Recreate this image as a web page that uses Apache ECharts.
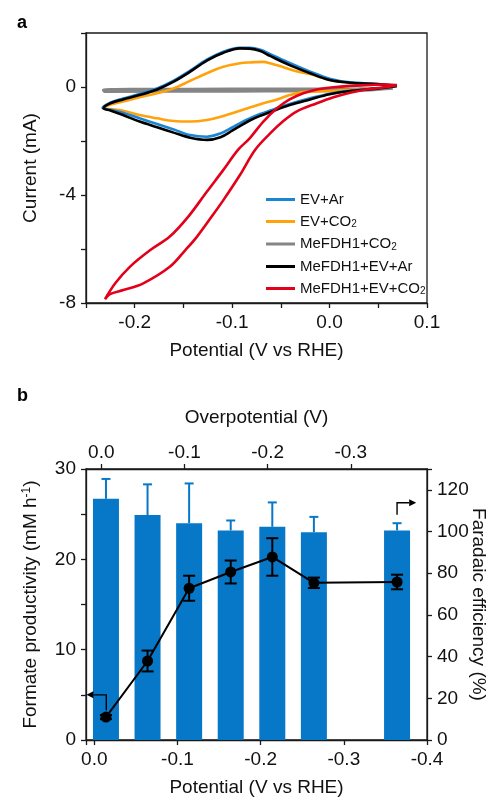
<!DOCTYPE html>
<html>
<head>
<meta charset="utf-8">
<script src="https://cdn.jsdelivr.net/npm/echarts@6.0.0/dist/echarts.min.js"></script>
<style>
html,body{margin:0;padding:0;background:#fff;}
#c{width:492px;height:799px;}
</style>
</head>
<body>
<div id="c"></div>
<script>
// ---------- Panel a: cyclic voltammograms [potential V vs RHE, current mA] ----------
const cvNames = ['EV+Ar', 'EV+CO2', 'MeFDH1+CO2', 'MeFDH1+EV+Ar', 'MeFDH1+EV+CO2'];

const cvEvAr = [
  [0.069,0.04],[0.048,-0.06],[0.021,-0.14],[0.000,-0.25],[-0.020,-0.42],[-0.041,-0.63],[-0.061,-0.87],
  [-0.072,-1.01],[-0.082,-1.16],[-0.090,-1.30],[-0.100,-1.50],[-0.112,-1.72],[-0.126,-1.84],[-0.143,-1.78],
  [-0.160,-1.57],[-0.177,-1.37],[-0.195,-1.16],[-0.212,-0.95],[-0.225,-0.84],[-0.233,-0.78],
  [-0.225,-0.58],[-0.212,-0.43],[-0.195,-0.26],[-0.177,-0.05],[-0.160,0.24],[-0.143,0.61],[-0.126,1.01],
  [-0.109,1.31],[-0.092,1.45],[-0.082,1.45],[-0.071,1.38],[-0.061,1.22],[-0.041,0.89],[-0.020,0.57],
  [0.000,0.31],[0.021,0.17],[0.048,0.11],[0.069,0.05]
];
const cvEvCo2 = [
  [0.069,0.04],[0.048,-0.05],[0.021,-0.10],[0.000,-0.15],[-0.027,-0.19],[-0.041,-0.30],[-0.054,-0.46],
  [-0.068,-0.60],[-0.082,-0.76],[-0.092,-0.88],[-0.109,-1.07],[-0.126,-1.22],[-0.143,-1.28],[-0.160,-1.26],
  [-0.177,-1.16],[-0.195,-1.04],[-0.212,-0.88],[-0.225,-0.82],[-0.232,-0.79],
  [-0.225,-0.65],[-0.212,-0.54],[-0.195,-0.38],[-0.177,-0.23],[-0.160,-0.05],[-0.143,0.23],[-0.126,0.51],
  [-0.109,0.75],[-0.092,0.88],[-0.082,0.91],[-0.068,0.93],[-0.061,0.88],[-0.048,0.74],[-0.034,0.58],
  [-0.020,0.48],[0.000,0.26],[0.021,0.16],[0.048,0.11],[0.069,0.04]
];
const cvFdhCo2 = [
  [0.065,-0.04],[0.030,-0.12],[-0.100,-0.15],[-0.231,-0.16],[-0.232,-0.11],[-0.100,-0.08],[0.030,-0.07],[0.065,-0.04]
];
const cvFdhEvAr = [
  [0.069,0.04],[0.048,-0.06],[0.021,-0.15],[0.000,-0.27],[-0.020,-0.46],[-0.041,-0.67],[-0.061,-0.93],
  [-0.072,-1.08],[-0.082,-1.24],[-0.090,-1.40],[-0.100,-1.62],[-0.112,-1.86],[-0.126,-1.96],[-0.143,-1.88],
  [-0.160,-1.69],[-0.177,-1.49],[-0.195,-1.28],[-0.212,-1.04],[-0.225,-0.87],[-0.232,-0.79],
  [-0.225,-0.60],[-0.212,-0.46],[-0.195,-0.30],[-0.177,-0.09],[-0.160,0.20],[-0.143,0.57],[-0.126,0.98],
  [-0.109,1.27],[-0.092,1.43],[-0.082,1.42],[-0.071,1.33],[-0.061,1.15],[-0.041,0.81],[-0.020,0.51],
  [0.000,0.26],[0.021,0.16],[0.048,0.11],[0.069,0.04]
];
const cvFdhEvCo2 = [
  [0.069,0.07],[0.055,0.09],[0.038,0.07],[0.021,0.04],[0.004,-0.01],[-0.013,-0.09],[-0.027,-0.23],
  [-0.041,-0.46],[-0.054,-0.79],[-0.068,-1.28],[-0.082,-1.90],[-0.094,-2.33],[-0.109,-3.07],[-0.126,-3.88],
  [-0.145,-4.80],[-0.164,-5.54],[-0.184,-6.04],[-0.205,-6.66],[-0.220,-7.27],[-0.2305,-7.86],
  [-0.2254,-7.67],[-0.2117,-7.52],[-0.1912,-7.27],[-0.164,-6.66],[-0.148,-6.04],[-0.136,-5.54],
  [-0.121,-4.80],[-0.109,-4.19],[-0.092,-3.26],[-0.0765,-2.33],[-0.061,-1.72],[-0.048,-1.28],
  [-0.034,-0.91],[-0.013,-0.60],[0.004,-0.38],[0.021,-0.21],[0.038,-0.09],[0.055,-0.02],[0.069,0.07]
];

// ---------- Panel b ----------
const potentials = [-0.014, -0.064, -0.114, -0.164, -0.214, -0.264, -0.364];     // V vs RHE
const productivity = [26.7, 24.9, 24.0, 23.2, 23.6, 23.0, 23.2];                  // mM h-1
const productivityErr = [2.2, 3.4, 4.4, 1.1, 2.7, 1.7, 0.8];
const faradaicEff = [11.0, 37.9, 72.8, 80.6, 87.8, 75.4, 75.8];                   // %
const faradaicErr = [1.0, 5.0, 6.0, 5.5, 9.0, 2.5, 3.5];
const overpotTicks = [0.0, -0.1, -0.2, -0.3];                                     // V
const overpotOffset = 0.0084;  // overpotential = potential + offset

const FONT = 'Liberation Sans, Arial, Helvetica, sans-serif';
const AX = '#1a1a1a';
const cvColors = {'EV+Ar':'#1a85d2','EV+CO2':'#ffa20c','MeFDH1+CO2':'#858585','MeFDH1+EV+Ar':'#000000','MeFDH1+EV+CO2':'#e2001a'};
const barColor = '#0777c8';
const BAR_W = 26;

const chart = echarts.init(document.getElementById('c'), null, {renderer:'canvas'});

function axisCommon(){
  return {
    nameMoveOverlap:false,
    axisLine:{show:true, onZero:false, lineStyle:{color:AX, width:1.3}},
    axisTick:{show:true, inside:false, length:5, lineStyle:{color:AX, width:1.3}},
    axisLabel:{color:'#111', fontSize:19, fontFamily:FONT},
    splitLine:{show:false},
    nameTextStyle:{color:'#111', fontSize:19, fontFamily:FONT}
  };
}
function mk(base, extra){
  const o = JSON.parse(JSON.stringify(base));
  for (const k in extra){
    if (extra[k] && typeof extra[k]==='object' && !Array.isArray(extra[k]) && o[k] && typeof o[k]==='object'){
      o[k] = Object.assign({}, o[k], extra[k]);
    } else o[k] = extra[k];
  }
  return o;
}
const nearMult = (v, step) => Math.abs(v/step - Math.round(v/step)) < 1e-6;

const cvSeriesData = {'EV+Ar':cvEvAr,'EV+CO2':cvEvCo2,'MeFDH1+CO2':cvFdhCo2,'MeFDH1+EV+Ar':cvFdhEvAr,'MeFDH1+EV+CO2':cvFdhEvCo2};
const drawOrder = ['MeFDH1+CO2','EV+CO2','EV+Ar','MeFDH1+EV+Ar','MeFDH1+EV+CO2'];

const cvSeries = drawOrder.map(n => ({
  name:n, type:'line', xAxisIndex:0, yAxisIndex:0,
  data:cvSeriesData[n], showSymbol:false, symbol:'none', smooth:0.35,
  lineStyle:{color:cvColors[n], width: n==='MeFDH1+CO2' ? 3.2 : 2.6},
  itemStyle:{color:cvColors[n]}, animation:false, z:2
}));

const barData = potentials.map((p,i)=>[p, productivity[i]]);
const barErrData = potentials.map((p,i)=>[p, productivity[i], productivity[i]+productivityErr[i]]);
const feErrData = potentials.map((p,i)=>[p, faradaicEff[i]-faradaicErr[i], faradaicEff[i]+faradaicErr[i]]);

function arrowItem(pts, color){
  return function(params, api){
    const P = pts.map(p => api.coord(p));
    const n = P.length;
    const a = P[n-2], b = P[n-1];
    const dx = b[0]-a[0], dy = b[1]-a[1];
    const L = Math.hypot(dx,dy) || 1;
    const ux = dx/L, uy = dy/L;
    const hl = 7, hw = 3.5;
    const base = [b[0]-ux*hl, b[1]-uy*hl];
    const shaft = P.slice(0, n-1).concat([base]);
    return {type:'group', children:[
      {type:'polyline', shape:{points:shaft}, style:{stroke:color, lineWidth:1.4, fill:null}},
      {type:'polygon', shape:{points:[b, [base[0]-uy*hw, base[1]+ux*hw], [base[0]+uy*hw, base[1]-ux*hw]]}, style:{fill:color}}
    ]};
  };
}

const option = {
  animation:false,
  backgroundColor:'#fff',
  textStyle:{fontFamily:FONT},
  title:[
    {text:'a', left:12, top:9, textStyle:{fontSize:18, fontWeight:'bold', color:'#000', fontFamily:FONT}},
    {text:'b', left:12, top:382, textStyle:{fontSize:18, fontWeight:'bold', color:'#000', fontFamily:FONT}}
  ],
  legend:{
    data:cvNames, orient:'vertical', left:266, top:192, padding:0, itemGap:7,
    itemWidth:29, itemHeight:3, icon:'rect',
    formatter: n => n.endsWith('CO2') ? '{n|'+n.slice(0,-1)+'}{s|2}' : '{n|'+n+'}',
    textStyle:{color:'#111', fontFamily:FONT, padding:[0,0,0,0],
      rich:{n:{fontSize:15, lineHeight:16, fontFamily:FONT, color:'#111'},
            s:{fontSize:10, lineHeight:10, fontFamily:FONT, color:'#111', verticalAlign:'bottom', padding:[0,0,0,0]}}}
  },
  grid:[
    {left:86, top:33, width:341, height:270, show:true, borderColor:AX, borderWidth:1.3,
     backgroundColor:'transparent', containLabel:false, outerBoundsMode:'none'},
    {left:86, top:469, width:341, height:271, show:true, borderColor:AX, borderWidth:1.3,
     backgroundColor:'transparent', containLabel:false, outerBoundsMode:'none'}
  ],
  xAxis:[
    mk(axisCommon(), {type:'value', gridIndex:0, min:-0.25, max:0.1, interval:0.05,
      name:'Potential (V vs RHE)', nameLocation:'middle', nameGap:38,
      axisLabel:{color:'#111', fontSize:19, fontFamily:FONT, margin:10,
        formatter: v => nearMult(v,0.1) ? (Math.round(v*10)/10).toFixed(1) : ''}}),
    mk(axisCommon(), {type:'value', gridIndex:1, min:-0.4, max:0.01, interval:0.1, inverse:true,
      name:'Potential (V vs RHE)', nameLocation:'middle', nameGap:38,
      axisLabel:{color:'#111', fontSize:19, fontFamily:FONT, margin:10,
        formatter: v => nearMult(v,0.1) ? (Math.round(v*10)/10).toFixed(1) : ''}}),
    mk(axisCommon(), {type:'value', gridIndex:1, position:'top',
      min:-0.4+overpotOffset, max:0.01+overpotOffset, inverse:true,
      name:'Overpotential (V)', nameLocation:'middle', nameGap:42,
      axisTick:{show:true, inside:false, length:5, lineStyle:{color:AX, width:1.3}, customValues:overpotTicks},
      axisLabel:{color:'#111', fontSize:19, fontFamily:FONT, margin:7, customValues:overpotTicks,
        formatter: v => (Math.round(v*10)/10).toFixed(1)}})
  ],
  yAxis:[
    mk(axisCommon(), {type:'value', gridIndex:0, min:-8, max:2, interval:2,
      name:'Current (mA)', nameLocation:'middle', nameGap:46,
      axisLabel:{color:'#111', fontSize:19, fontFamily:FONT, margin:10,
        formatter: v => (Math.round(v)%4===0 ? String(Math.round(v)) : '')}}),
    mk(axisCommon(), {type:'value', gridIndex:1, min:0, max:30, interval:5,
      name:'Formate productivity (mM h{sup|-1})', nameLocation:'middle', nameGap:46,
      nameTextStyle:{color:'#111', fontSize:19, fontFamily:FONT,
        rich:{sup:{fontSize:12, fontFamily:FONT, color:'#111', verticalAlign:'top', lineHeight:12}}},
      axisLabel:{color:'#111', fontSize:19, fontFamily:FONT, margin:10,
        formatter: v => (Math.round(v)%10===0 ? String(Math.round(v)) : '')}}),
    mk(axisCommon(), {type:'value', gridIndex:1, position:'right', min:0, max:130, interval:20,
      name:'Faradaic efficiency (%)', nameLocation:'middle', nameGap:42, nameRotate:-90,
      axisLabel:{color:'#111', fontSize:19, fontFamily:FONT, margin:10,
        formatter: v => (v<=120 ? String(Math.round(v)) : '')}})
  ],
  series: cvSeries.concat([
    {name:'Formate productivity', type:'custom', xAxisIndex:1, yAxisIndex:1, data:barData, z:2,
     renderItem:(params, api)=>{
       const t = api.coord([api.value(0), api.value(1)]);
       const b = api.coord([api.value(0), 0]);
       return {type:'rect', shape:{x:t[0]-BAR_W/2, y:t[1], width:BAR_W, height:b[1]-t[1]}, style:{fill:barColor}};
     }},
    {type:'custom', xAxisIndex:1, yAxisIndex:1, data:barErrData, z:3,
     renderItem:(params, api)=>{
       const b = api.coord([api.value(0), api.value(1)]);
       const t = api.coord([api.value(0), api.value(2)]);
       const hw = 4.5;
       return {type:'group', children:[
         {type:'line', shape:{x1:b[0], y1:b[1], x2:t[0], y2:t[1]}, style:{stroke:barColor, lineWidth:2}},
         {type:'line', shape:{x1:t[0]-hw, y1:t[1], x2:t[0]+hw, y2:t[1]}, style:{stroke:barColor, lineWidth:2}}
       ]};
     }},
    {type:'custom', xAxisIndex:1, yAxisIndex:2, data:feErrData, z:4,
     renderItem:(params, api)=>{
       const lo = api.coord([api.value(0), api.value(1)]);
       const hi = api.coord([api.value(0), api.value(2)]);
       const hw = 6;
       return {type:'group', children:[
         {type:'line', shape:{x1:lo[0], y1:lo[1], x2:hi[0], y2:hi[1]}, style:{stroke:'#000', lineWidth:2}},
         {type:'line', shape:{x1:hi[0]-hw, y1:hi[1], x2:hi[0]+hw, y2:hi[1]}, style:{stroke:'#000', lineWidth:2}},
         {type:'line', shape:{x1:lo[0]-hw, y1:lo[1], x2:lo[0]+hw, y2:lo[1]}, style:{stroke:'#000', lineWidth:2}}
       ]};
     }},
    {name:'Faradaic efficiency', type:'line', xAxisIndex:1, yAxisIndex:2,
     data: potentials.map((p,i)=>[p, faradaicEff[i]]),
     symbol:'circle', symbolSize:11, showSymbol:true,
     lineStyle:{color:'#000', width:2}, itemStyle:{color:'#000'}, z:5},
    {type:'custom', xAxisIndex:1, yAxisIndex:1, data:[[0,0]], z:6, silent:true,
     renderItem: arrowItem([[-0.0144,3.3],[-0.0144,5.0],[0.0095,5.0]], '#000')},
    {type:'custom', xAxisIndex:1, yAxisIndex:2, data:[[0,0]], z:6, silent:true,
     renderItem: arrowItem([[-0.364,108],[-0.364,113.8],[-0.387,113.8]], '#000')}
  ])
};
chart.setOption(option);
</script>
</body>
</html>
